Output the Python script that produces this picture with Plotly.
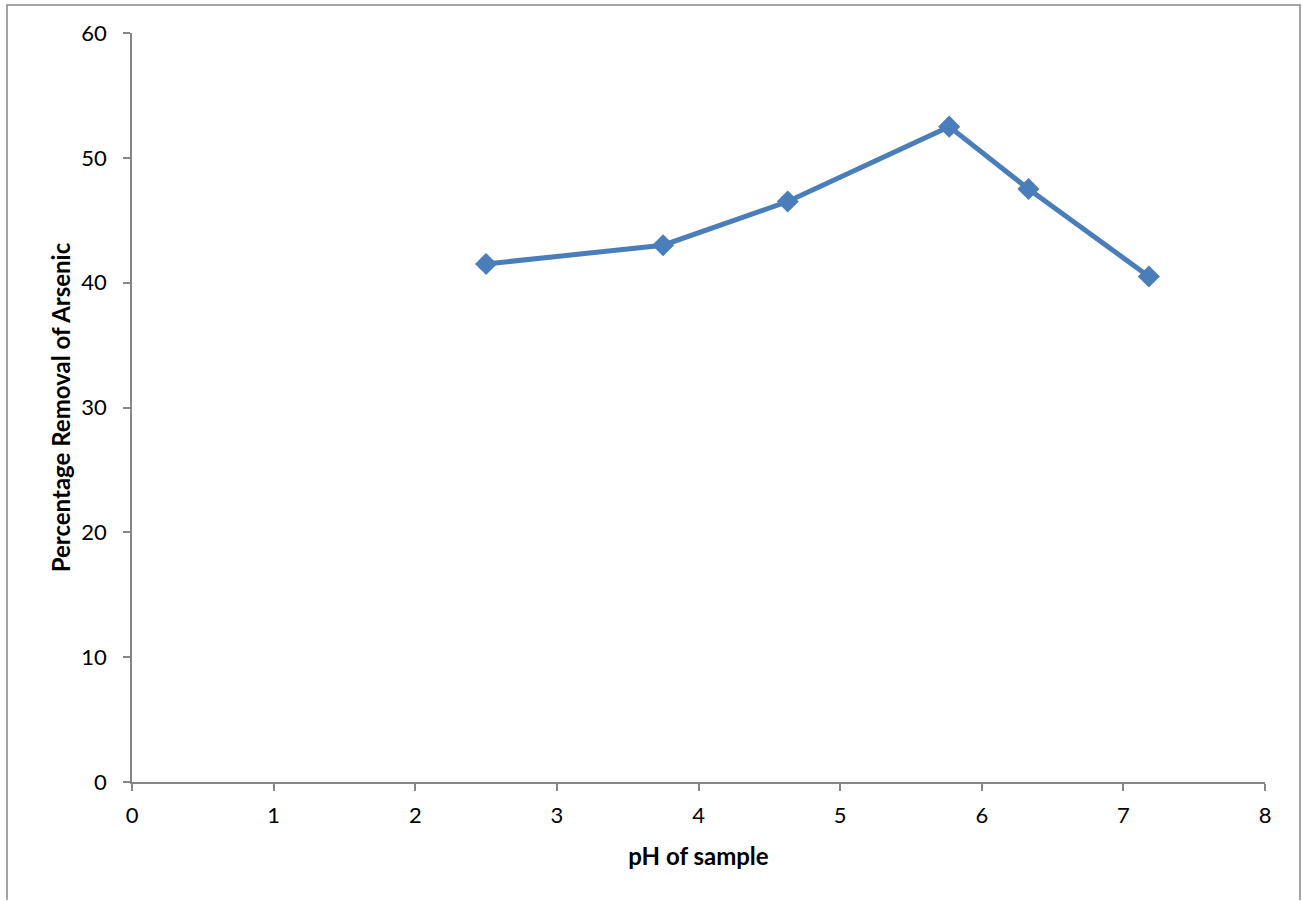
import plotly.graph_objects as go

ph_values = [2.5, 3.75, 4.63, 5.77, 6.33, 7.18]
removal_pct = [41.5, 43.0, 46.5, 52.5, 47.5, 40.5]

x_title = "pH of sample"
y_title = "Percentage Removal of Arsenic"

W, H = 1302, 900
L, R, T, B = 132, 1265, 33, 782

fig = go.Figure()
fig.add_trace(go.Scatter(
    x=ph_values, y=removal_pct, mode="lines+markers",
    line=dict(color="#4A7EBB", width=5),
    marker=dict(symbol="diamond", size=17, color="#4A7EBB"),
    showlegend=False,
))

font_family = "Lato, 'Open Sans', sans-serif"
axis_common = dict(
    showgrid=False, zeroline=False, showline=True, linecolor="#868686", linewidth=1.5,
    ticks="outside", ticklen=7, tickwidth=1.5, tickcolor="#868686",
    tickfont=dict(family=font_family, size=22, color="#000000"),
)
fig.update_xaxes(range=[0, 8], dtick=1, tick0=0, ticklabelstandoff=6,
                 title=dict(text=x_title, font=dict(family=font_family, size=24, color="#000", weight="bold"), standoff=21),
                 **axis_common)
fig.update_yaxes(range=[0, 60], dtick=10, tick0=0, ticklabelstandoff=12,
                 title=dict(text=y_title, font=dict(family=font_family, size=24, color="#000", weight="bold"), standoff=4),
                 **axis_common)

pw, ph = R - L, B - T
def px2paper_x(px):
    return (px - L) / pw
def px2paper_y(py):
    return (B - py) / ph

fig.add_shape(type="rect", xref="paper", yref="paper",
              x0=px2paper_x(7), x1=px2paper_x(1300), y0=px2paper_y(915), y1=px2paper_y(5),
              line=dict(color="#868686", width=1.5), fillcolor="rgba(0,0,0,0)", layer="below")

fig.update_layout(
    width=W, height=H,
    margin=dict(l=L, r=W - R, t=T, b=H - B),
    plot_bgcolor="white", paper_bgcolor="white",
    font=dict(family=font_family),
)

fig.write_html("out.html", config={"displayModeBar": False},
               post_script="document.body.style.margin='0';document.body.style.overflow='hidden';")
